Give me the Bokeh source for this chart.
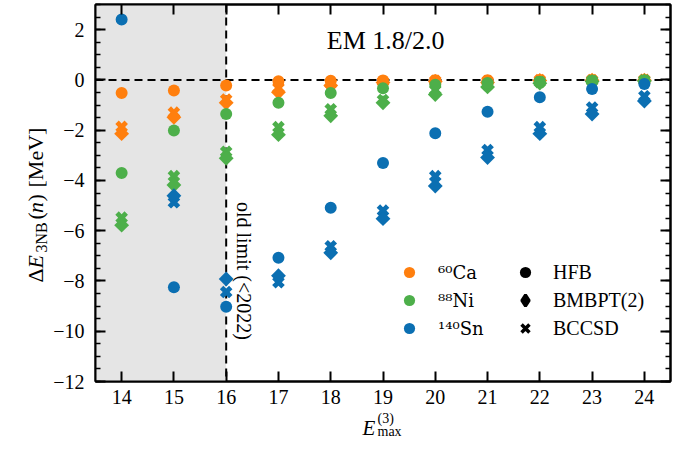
import numpy as np
from bokeh.plotting import figure
from bokeh.layouts import row, column
from bokeh.models import (Range1d, LinearAxis, FixedTicker, Span, BoxAnnotation, Label,
                          Legend, LegendItem, CustomJSTickFormatter)
from bokeh.embed import file_html
from bokeh.resources import INLINE

nan = float("nan")

# ---------------- data ----------------
emax = [14, 15, 16, 17, 18, 19, 20, 21, 22, 23, 24]

ca_hfb   = [-0.52, -0.42, -0.22, -0.05, -0.03, -0.02, -0.01, -0.01, 0.00, 0.00, 0.00]
ca_bmbpt = [-2.14, -1.49, -0.91, -0.49, -0.22, -0.10, -0.06, -0.10, -0.02, -0.01, -0.01]
ca_bccsd = [-1.87, -1.30, -0.78, -0.32, -0.15, -0.07, -0.04, -0.05, -0.01, -0.01, 0.00]

ni_hfb   = [-3.70, -2.01, -1.36, -0.91, -0.52, -0.33, -0.19, -0.12, -0.07, -0.04, -0.03]
ni_bmbpt = [-5.78, -4.18, -3.12, -2.18, -1.43, -0.91, -0.58, -0.28, -0.13, -0.06, -0.04]
ni_bccsd = [-5.48, -3.83, -2.86, -1.88, -1.17, -0.80, -0.40, -0.20, -0.09, -0.04, -0.02]

sn_hfb   = [2.40, -8.25, -9.03, -7.08, -5.09, -3.31, -2.12, -1.27, -0.69, -0.36, -0.16]
sn_bmbpt = [nan, -4.61, -7.92, -7.79, -6.88, -5.52, -4.22, -3.09, -2.14, -1.36, -0.84]
sn_bccsd = [nan, -4.87, -8.44, -8.05, -6.62, -5.20, -3.83, -2.79, -1.88, -1.10, -0.65]

nuclei = ["\u2076\u2070Ca", "\u2078\u2078Ni", "\u00b9\u2074\u2070Sn"]
methods = ["HFB", "BMBPT(2)", "BCCSD"]
old_limit = 16
old_limit_text = "old limit (<2022)"
interaction = "EM 1.8/2.0"
x_ticks = emax
y_ticks = [-12, -10, -8, -6, -4, -2, 0, 2]

# ---------------- style ----------------
FONT = "Liberation Serif"
C_CA, C_NI, C_SN = "#ff7f0e", "#4daf4a", "#0b6fb2"

W_YLAB = 50
W_MAIN = 676 - W_YLAB
H_MAIN = 409
H_XLAB = 439 - H_MAIN
B_LEFT, B_RIGHT = 45, 6

p = figure(width=W_MAIN, height=H_MAIN, output_backend="svg", toolbar_location=None,
           x_range=Range1d(13.5, 24.5), y_range=Range1d(-12, 3),
           min_border_left=B_LEFT, min_border_right=B_RIGHT, min_border_top=4,
           min_border_bottom=28)
p.xgrid.visible = False
p.ygrid.visible = False
p.outline_line_color = "black"
p.outline_line_width = 2
p.background_fill_color = "white"
p.border_fill_color = "white"

bottom_ax = p.below[0]
left_ax = p.left[0]

# shaded old region and reference lines (under the markers)
p.add_layout(BoxAnnotation(right=old_limit, fill_color="#e5e5e5", fill_alpha=1.0,
                           line_color=None, level="underlay"))
p.add_layout(Span(location=0, dimension="width", line_color="black", line_width=2,
                  line_dash="8 5", level="underlay"))
p.add_layout(Span(location=old_limit, dimension="height", line_color="black", line_width=2,
                  line_dash="8 5", level="underlay"))

def draw(col, hfb, bmbpt, bccsd):
    p.scatter(emax, bccsd, marker="plus", angle=np.pi / 4, size=13, fill_color=col, line_color=None)
    p.scatter(emax, bmbpt, marker="square", angle=np.pi / 4, size=10.5, fill_color=col, line_color=None)
    r = p.scatter(emax, hfb, marker="circle", size=12, fill_color=col, line_color=None)
    return r

r_ca = draw(C_CA, ca_hfb, ca_bmbpt, ca_bccsd)
r_ni = draw(C_NI, ni_hfb, ni_bmbpt, ni_bccsd)
r_sn = draw(C_SN, sn_hfb, sn_bmbpt, sn_bccsd)

# legend-only renderers (one NaN point each, nothing drawn in the plot)
d_hfb = p.scatter([nan], [nan], marker="circle", fill_color="black", line_color=None)
d_bm = p.scatter([nan], [nan], marker="diamond", fill_color="black", line_color="black",
                 line_width=3)
d_cc = p.scatter([nan], [nan], marker="x", line_color="black", line_width=3.5)

def mk_legend(items, loc, standoff, font, size):
    return Legend(items=items, location=loc, orientation="vertical",
                  glyph_width=28, glyph_height=28, label_height=28, spacing=0,
                  padding=0, margin=0, label_standoff=standoff,
                  border_line_color=None, background_fill_alpha=0,
                  label_text_font=font, label_text_font_size=size,
                  label_text_color="black")

leg1 = mk_legend([LegendItem(label=nuclei[0], renderers=[r_ca]),
                  LegendItem(label=nuclei[1], renderers=[r_ni]),
                  LegendItem(label=nuclei[2], renderers=[r_sn])], (300, 39), 15,
                 "DejaVu Serif", "18px")
leg2 = mk_legend([LegendItem(label=methods[0], renderers=[d_hfb]),
                  LegendItem(label=methods[1], renderers=[d_bm]),
                  LegendItem(label=methods[2], renderers=[d_cc])], (416, 39), 14,
                 FONT, "20px")
p.add_layout(leg1)
p.add_layout(leg2)

# texts in the plot
p.add_layout(Label(x=19.05, y=1.56, text=interaction, text_align="center", text_baseline="middle",
                   text_font=FONT, text_font_size="26px", text_color="black"))
p.add_layout(Label(x=16.35, y=-7.6, text=old_limit_text, angle=-np.pi / 2,
                   text_align="center", text_baseline="middle",
                   text_font=FONT, text_font_size="20px", text_color="black"))

# axes
minor_y = list(np.arange(-12, 3.01, 0.5))
bottom_ax.ticker = FixedTicker(ticks=x_ticks, minor_ticks=[])
left_ax.ticker = FixedTicker(ticks=y_ticks, minor_ticks=minor_y)
left_ax.formatter = CustomJSTickFormatter(
    code="return tick < 0 ? '\u2212' + (-tick) : tick.toString();")

top_ax = LinearAxis(ticker=FixedTicker(ticks=x_ticks, minor_ticks=[]),
                    formatter=CustomJSTickFormatter(code="return '';"))
right_ax = LinearAxis(ticker=FixedTicker(ticks=y_ticks, minor_ticks=minor_y),
                      formatter=CustomJSTickFormatter(code="return '';"))
p.add_layout(top_ax, "above")
p.add_layout(right_ax, "right")

for ax in [bottom_ax, left_ax, top_ax, right_ax]:
    ax.axis_line_width = 2
    ax.axis_line_color = "black"
    ax.major_tick_line_width = 2
    ax.minor_tick_line_width = 1.5
    ax.major_tick_in = 10
    ax.major_tick_out = 0
    ax.minor_tick_in = 5
    ax.minor_tick_out = 0
    ax.major_label_text_font = FONT
    ax.major_label_text_font_size = "20px"
    ax.major_label_text_color = "black"
for ax in [top_ax, right_ax]:
    ax.major_label_text_font_size = "1px"
    ax.major_label_standoff = 0
bottom_ax.major_label_standoff = 8
left_ax.major_label_standoff = 11

# ---------------- axis titles (composed texts) ----------------
def blank_fig(w, h, xr, yr, **kw):
    f = figure(width=w, height=h, output_backend="svg", toolbar_location=None,
               x_range=Range1d(*xr), y_range=Range1d(*yr),
               x_axis_location=None, y_axis_location=None,
               outline_line_color=None, **kw)
    f.xgrid.visible = False
    f.ygrid.visible = False
    return f

def lab(f, x, y, t, size, style="normal", angle=0.0):
    f.add_layout(Label(x=x, y=y, text=t, angle=angle,
                       text_align="left", text_baseline="middle", text_font=FONT,
                       text_font_size=size, text_font_style=style, text_color="black"))

# x label: E_max^(3)  (its frame lines up with the main frame, so x is in page pixels)
X0 = W_YLAB + B_LEFT
fx = blank_fig(W_MAIN, H_XLAB, (X0, W_YLAB + W_MAIN - B_RIGHT), (0, H_XLAB),
               min_border_left=B_LEFT, min_border_right=B_RIGHT,
               min_border_top=0, min_border_bottom=0)
lab(fx, 362, 12, "E", "21px", "italic")
lab(fx, 377, 21, "(3)", "14px")
lab(fx, 377, 8.5, "max", "14px")

# y label: ΔE_3NB(n) [MeV]
fy = blank_fig(W_YLAB, 439, (0, W_YLAB), (0, 439), min_border=0)
A = np.pi / 2
BX = 35
lab(fy, BX, 157, "\u0394", "22px", angle=A)
lab(fy, BX, 171, "E", "22px", "italic", angle=A)
lab(fy, BX + 6, 187, "3NB", "16px", angle=A)
lab(fy, BX, 220, "(", "22px", angle=A)
lab(fy, BX, 226.5, "n", "22px", "italic", angle=A)
lab(fy, BX, 238, ")", "22px", angle=A)
lab(fy, BX, 252, "[MeV]", "22px", angle=A)

layout = row(fy, column(p, fx))
open("out.html", "w").write(file_html(layout, INLINE))
